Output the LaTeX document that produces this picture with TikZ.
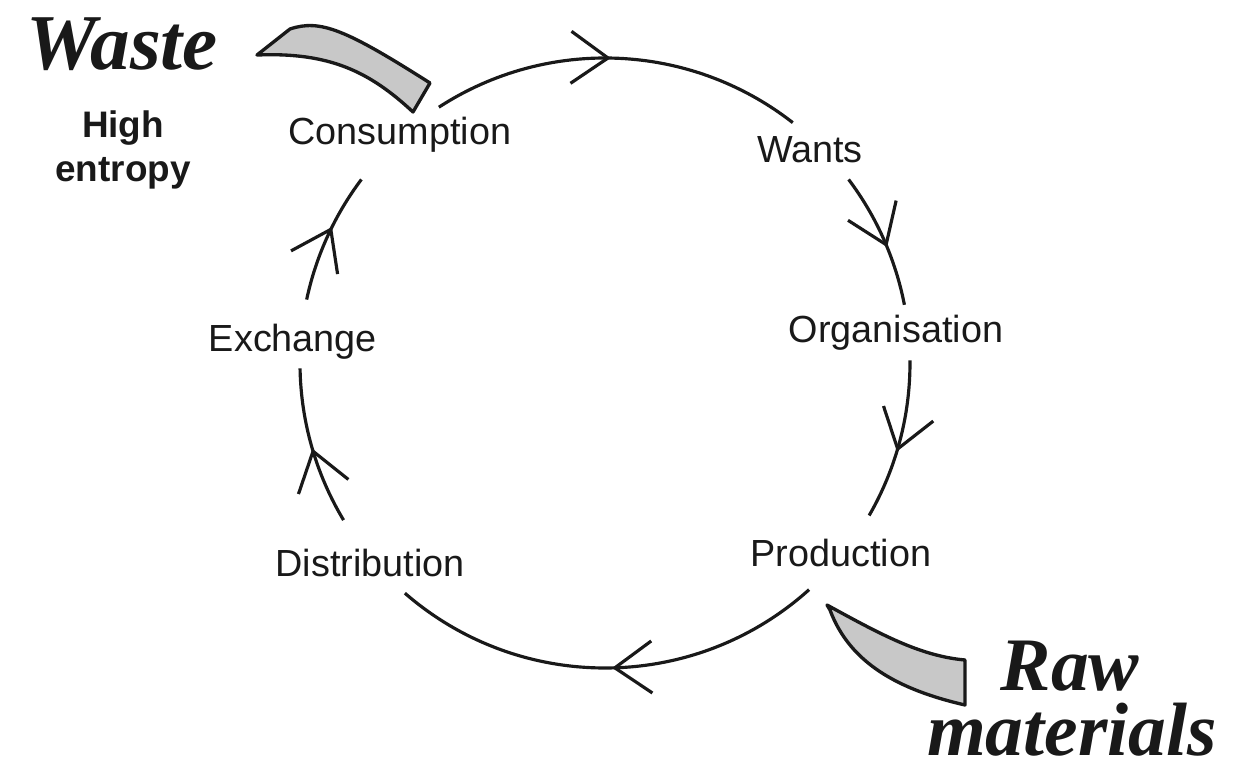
\documentclass[tikz,border=0pt]{standalone}
\usepackage{fontspec}
\newfontfamily\labelfont{Liberation Sans}
\newfontfamily\brushfont{Liberation Serif}
\usetikzlibrary{arrows.meta,decorations.markings}
\definecolor{bandgray}{RGB}{200,200,200}
\definecolor{ink}{RGB}{25,25,25}

\begin{document}
\begin{tikzpicture}[x=0.2mm,y=0.2mm,
  lbl/.style={text=ink,font=\labelfont\fontsize{21.5}{26}\selectfont},
  cyc/.style={draw=ink,line width=1.8pt},
  midarrow/.style={postaction={decorate},decoration={markings,
     mark=at position #1 with {\arrow{Straight Barb[length=7.4mm,width=10.4mm]}}}},
  band/.style={draw=ink,line width=1.9pt,fill=bandgray,line join=round},
  brush/.style={text=ink,anchor=base,inner sep=0pt,font=\brushfont\bfseries\itshape\fontsize{43}{40}\selectfont}]

\useasboundingbox (0,0) rectangle (1245,774);

\coordinate (ctr) at (605,411);

% stages of the cycle
\node[lbl] (cons) at (400,639) {Consumption};
\node[lbl] (wants) at (810,624) {Wants};
\node[lbl] (org) at (896,441) {Organisation};
\node[lbl] (prod) at (841,221) {Production};
\node[lbl] (dist) at (370,211) {Distribution};
\node[lbl] (exch) at (293,432) {Exchange};

% the circle, in six pieces
\foreach \from/\to/\pos in {123/52/0.48, 37/11/0.565, 0.5/-30/0.57,
                            -48/-131/0.49, 211/181/0.49, 168/143/0.58}{%
  \draw[cyc,midarrow=\pos] ([shift={(\from:305)}]ctr) arc[start angle=\from,end angle=\to,radius=305];
}

% out and in
\draw[band] (257,719) -- (290,745) .. controls (320,755) and (345,745) .. (430,691)
   -- (413,662) .. controls (370,702) and (330,722) .. (257,719) -- cycle;
\draw[band] (827,169) .. controls (880,140) and (920,118) .. (965,114)
   -- (965,69) .. controls (900,84) and (850,110) .. (830,164) -- cycle;

\node[brush,font=\brushfont\bfseries\itshape\fontsize{45}{40}\selectfont] (waste) at (122,704) {Waste};
\node[text=ink,align=center,font=\labelfont\bfseries\fontsize{21}{25.5}\selectfont] (entropy) at (123,624) {High\\entropy};
\node[brush] (raw) at (1070,84) {Raw};
\node[brush] (mat) at (1072,19) {materials};

\end{tikzpicture}
\end{document}
